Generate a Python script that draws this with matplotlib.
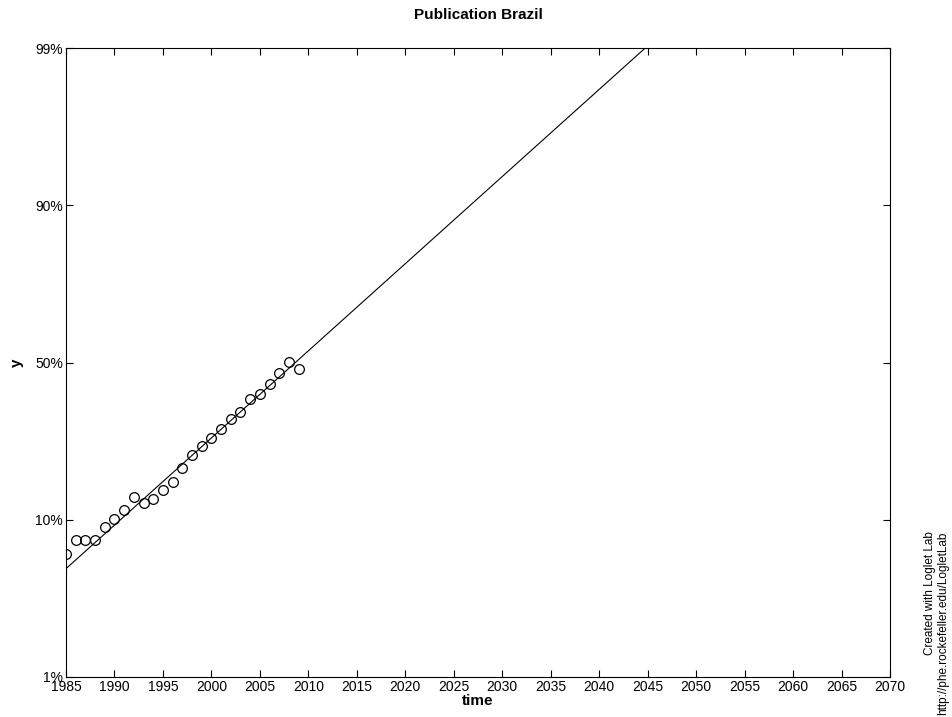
import numpy as np
import matplotlib
matplotlib.use('Agg')
import matplotlib.pyplot as plt

plt.rcParams['font.family'] = ['Liberation Sans', 'DejaVu Sans']

# observed fraction of saturation, by year
years = np.arange(1985, 2010)
frac = [0.057, 0.069, 0.069, 0.069, 0.082, 0.092, 0.103, 0.122, 0.113, 0.120,
        0.134, 0.148, 0.175, 0.204, 0.227, 0.249, 0.274, 0.304, 0.325, 0.371,
        0.385, 0.421, 0.461, 0.502, 0.477]

# fitted logistic: midpoint and characteristic duration (10% -> 90%)
t_mid = 2008.66
dt = 34.44

ytick_pos = [-2, -1, 0, 1, 2]
ytick_lab = ['1%', '10%', '50%', '90%', '99%']
xticks = np.arange(1985, 2071, 5)


def fisher_pry(f):
    f = np.asarray(f)
    return np.log10(f / (1 - f))


fig = plt.figure(figsize=(9.52, 7.17), dpi=100)
ax = fig.add_axes([66 / 952, 1 - 677 / 717, (890 - 66) / 952, (677 - 48) / 717])

t = np.linspace(1985, 2070, 400)
fit = np.log10(81) * (t - t_mid) / dt
ax.plot(t, fit, color='black', lw=0.8)
ax.plot(years, fisher_pry(frac), 'o', mfc='none', mec='black', ms=7, mew=0.9)

ax.set_xlim(1985, 2070)
ax.set_ylim(-2, 2)
ax.set_xticks(xticks)
ax.set_yticks(ytick_pos)
ax.set_yticklabels(ytick_lab)
ax.tick_params(direction='in', top=True, right=True, length=5, width=0.8,
               labelsize=10, pad=2)
for s in ax.spines.values():
    s.set_linewidth(0.8)

ax.set_title('Publication Brazil', fontsize=11, fontweight='bold', pad=21)
ax.set_xlabel('time', fontsize=11, fontweight='bold', labelpad=0)
ax.set_ylabel('y', fontsize=11, fontweight='bold', labelpad=8)

fig.text(0.997, 0.003, 'Created with Loglet Lab\nhttp://phe.rockefeller.edu/LogletLab',
         rotation=90, fontsize=8.5, ha='right', va='bottom', linespacing=1.1)

fig.savefig('out.png', dpi=100)
